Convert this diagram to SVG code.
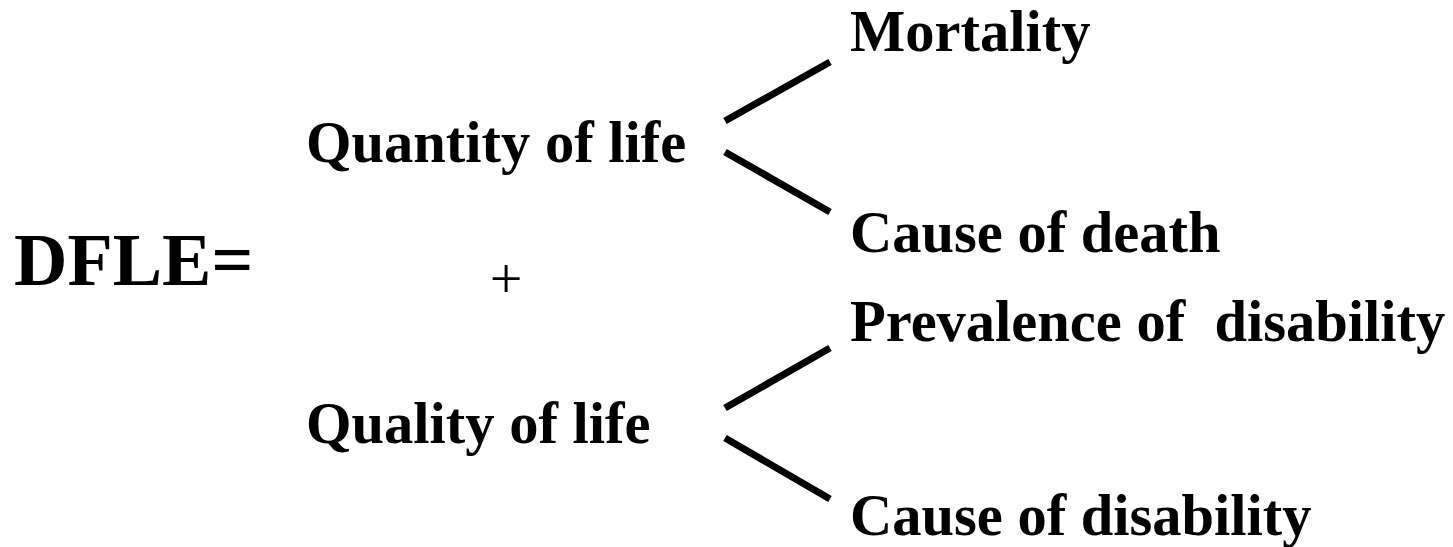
<svg xmlns="http://www.w3.org/2000/svg" width="1453" height="547" viewBox="0 0 1453 547">
<style>
.t{font-family:"Liberation Serif","Times New Roman",serif;font-weight:bold;font-size:58.5px;fill:#000;white-space:pre}
.big{font-size:74px}
.plus{font-family:"Liberation Serif","Times New Roman",serif;font-size:58px;fill:#000}
.c{stroke:#000;stroke-width:7;fill:none}
</style>
<rect width="1453" height="547" fill="#fff"/>
<g id="dfle"><text class="t big" x="14" y="285">DFLE=</text></g>
<g id="quantity"><text class="t" x="306" y="162">Quantity of life</text></g>
<g id="plus"><text class="plus" x="506" y="298" text-anchor="middle">+</text></g>
<g id="quality"><text class="t" x="306" y="443">Quality of life</text></g>
<g id="mortality"><text class="t" x="850" y="51">Mortality</text></g>
<g id="causedeath"><text class="t" x="850" y="252">Cause of death</text></g>
<g id="prevalence"><text class="t" x="850" y="341" xml:space="preserve">Prevalence of  disability</text></g>
<g id="causedisability"><text class="t" x="850" y="535">Cause of disability</text></g>
<g id="connectors">
<line class="c" x1="725" y1="121" x2="830" y2="62"/>
<line class="c" x1="725" y1="152" x2="830" y2="212"/>
<line class="c" x1="725" y1="408" x2="830" y2="348"/>
<line class="c" x1="725" y1="438" x2="830" y2="499"/>
</g>
</svg>
